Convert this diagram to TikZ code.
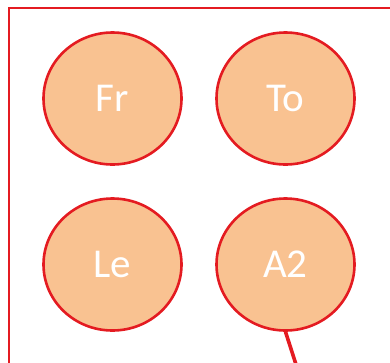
\documentclass[tikz,border=0pt]{standalone}
\usepackage{fontspec}
\setmainfont{Carlito}
\usetikzlibrary{shapes.geometric}
\definecolor{peach}{HTML}{F9C291}
\definecolor{redline}{HTML}{E41B21}
\tikzset{
  bubble/.style={ellipse, draw=redline, line width=2.6pt, fill=peach,
    minimum width=138pt, minimum height=132pt, inner sep=0pt,
    text=white, font=\fontsize{41}{41}\selectfont},
  frame/.style={draw=redline, line width=2.4pt},
  link/.style={draw=redline, line width=3.6pt}
}
\begin{document}
\begin{tikzpicture}[x=1pt, y=-1pt]
  \useasboundingbox (0,0) rectangle (390,362);
  \clip (0,0) rectangle (390,362);
  % enclosing frame, running past the right and bottom edges
  \draw[frame] (9,8) rectangle (420,400);
  % the four entries
  \node[bubble] (fr) at (112.5,98.5) {Fr};
  \node[bubble] (to) at (285.5,98.5) {To};
  \node[bubble] (le) at (112.5,264.5) {Le};
  \node[bubble] (a2) at (285.5,264.5) {A2};
  % outgoing link from A2
  \coordinate (out) at (301,380);
  \draw[link] (a2.south) -- (out);
\end{tikzpicture}
\end{document}
